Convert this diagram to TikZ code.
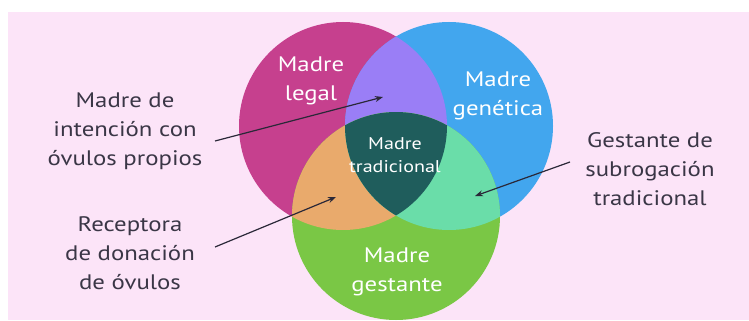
\documentclass[tikz,border=0pt]{standalone}
\usepackage{fontspec}
\setmainfont{PT Sans}[FakeStretch=1.18]
\usetikzlibrary{arrows.meta}
\definecolor{bgpink}{HTML}{FCE4F8}
\definecolor{cmag}{HTML}{C6408E}
\definecolor{cblue}{HTML}{42A6EE}
\definecolor{cgreen}{HTML}{7AC745}
\definecolor{cpurple}{HTML}{9A7EF6}
\definecolor{corange}{HTML}{E9AA6C}
\definecolor{cmint}{HTML}{6ADDA9}
\definecolor{cteal}{HTML}{1F5D5C}
\definecolor{labelgray}{HTML}{3A3646}
\definecolor{arrowcol}{HTML}{2A2838}
\tikzset{
  inlabel/.style={text=white, font=\fontsize{21}{28.5}\selectfont, align=center, inner sep=0pt},
  smalllabel/.style={text=white, font=\fontsize{17}{23}\selectfont, align=center, inner sep=0pt},
  outlabel/.style={text=labelgray, font=\fontsize{21}{29}\selectfont, align=center, inner sep=0pt},
  pointer/.style={draw=arrowcol, line width=1.2pt, -{Stealth[length=8pt,width=6pt]}}
}
\begin{document}
\begin{tikzpicture}[x=1pt,y=-1pt]
\useasboundingbox (0,0) rectangle (749,321);
\fill[white] (0,0) rectangle (749,321);
\fill[bgpink] (8,12) rectangle (749,320);
% circles
\def\cL{(343,126) circle[radius=104pt]}
\def\cB{(449,126) circle[radius=104pt]}
\def\cG{(396,216) circle[radius=104pt]}
\fill[cmag] \cL;
\fill[cblue] \cB;
\fill[cgreen] \cG;
\begin{scope}
  \clip \cL;
  \fill[cpurple] \cB;
  \fill[corange] \cG;
\end{scope}
\begin{scope}
  \clip \cB;
  \fill[cmint] \cG;
\end{scope}
\begin{scope}
  \clip \cL;
  \clip \cB;
  \fill[cteal] \cG;
\end{scope}
% labels inside
\node[inlabel] (legal) at (311,81) {Madre\\legal};
\node[inlabel] (genetica) at (498,96) {Madre\\genética};
\node[smalllabel] (trad) at (395,155) {Madre\\tradicional};
\node[inlabel] (gestante) at (397,272) {Madre\\gestante};
% outer labels
\node[outlabel] (intencion) at (125,131) {Madre de\\intención con\\óvulos propios};
\node[outlabel] (receptora) at (130,253) {Receptora\\de donación\\de óvulos};
\node[outlabel] (subrog) at (650,169) {Gestante de\\subrogación\\tradicional};
% arrow endpoints
\coordinate (a1s) at (215,141);
\coordinate (a1e) at (383,97);
\coordinate (a2s) at (215,247);
\coordinate (a2e) at (336,197);
\coordinate (a3s) at (570,162);
\coordinate (a3e) at (475,196);
\draw[pointer] (a1s) -- (a1e);
\draw[pointer] (a2s) -- (a2e);
\draw[pointer] (a3s) -- (a3e);
\end{tikzpicture}
\end{document}
